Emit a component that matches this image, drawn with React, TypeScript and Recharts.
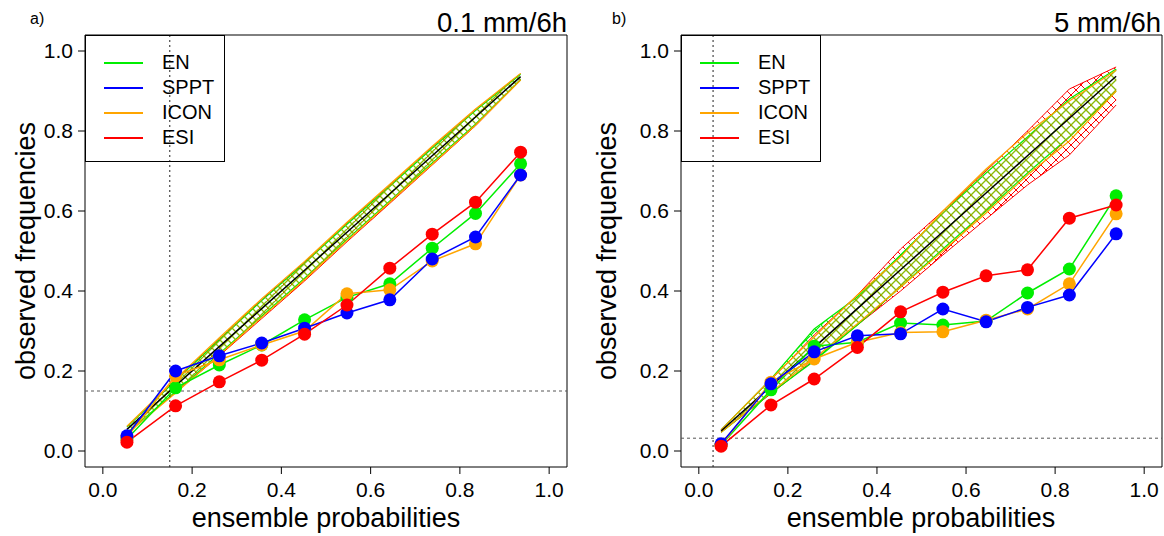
import {
  ComposedChart,
  Line,
  Area,
  XAxis,
  YAxis,
  ReferenceLine,
  ReferenceArea,
} from 'recharts';

// panel a) 0.1 mm/6h
const probA = [0.054, 0.163, 0.261, 0.356, 0.452, 0.547, 0.643, 0.738, 0.835, 0.936];
const enA = [0.03, 0.158, 0.215, 0.265, 0.328, 0.384, 0.418, 0.507, 0.594, 0.718];
const spptA = [0.038, 0.2, 0.238, 0.27, 0.307, 0.345, 0.378, 0.48, 0.535, 0.69];
const iconA = [0.035, 0.188, 0.228, 0.265, 0.3, 0.393, 0.403, 0.475, 0.518, 0.69];
const esiA = [0.022, 0.113, 0.173, 0.227, 0.292, 0.365, 0.457, 0.542, 0.622, 0.747];
const enLoA = [0.045, 0.148, 0.243, 0.337, 0.432, 0.529, 0.625, 0.72, 0.817, 0.928];
const enHiA = [0.06, 0.176, 0.278, 0.376, 0.47, 0.567, 0.662, 0.757, 0.851, 0.942];
const iconLoA = [0.043, 0.145, 0.24, 0.334, 0.428, 0.526, 0.622, 0.717, 0.814, 0.927];
const iconHiA = [0.062, 0.18, 0.283, 0.381, 0.474, 0.572, 0.667, 0.762, 0.855, 0.944];
const esiLoA = [0.044, 0.146, 0.238, 0.331, 0.425, 0.523, 0.619, 0.715, 0.813, 0.927];
const esiHiA = [0.061, 0.178, 0.28, 0.378, 0.472, 0.57, 0.665, 0.76, 0.854, 0.943];

// panel b) 5 mm/6h
const probB = [0.05, 0.162, 0.259, 0.356, 0.453, 0.548, 0.645, 0.738, 0.832, 0.937];
const enB = [0.015, 0.153, 0.262, 0.272, 0.32, 0.315, 0.325, 0.395, 0.455, 0.638];
const spptB = [0.018, 0.168, 0.248, 0.288, 0.293, 0.355, 0.323, 0.359, 0.39, 0.543];
const iconB = [0.015, 0.172, 0.23, 0.272, 0.296, 0.298, 0.327, 0.355, 0.418, 0.593];
const esiB = [0.012, 0.115, 0.18, 0.259, 0.348, 0.397, 0.438, 0.453, 0.582, 0.615];
const enLoB = [0.047, 0.145, 0.225, 0.315, 0.41, 0.505, 0.6, 0.695, 0.785, 0.9];
const enHiB = [0.053, 0.18, 0.305, 0.385, 0.49, 0.595, 0.695, 0.785, 0.88, 0.955];
const iconLoB = [0.047, 0.147, 0.232, 0.318, 0.41, 0.5, 0.595, 0.69, 0.775, 0.9];
const iconHiB = [0.053, 0.18, 0.285, 0.39, 0.485, 0.6, 0.705, 0.795, 0.875, 0.952];
const esiLoB = [0.047, 0.143, 0.228, 0.315, 0.4, 0.49, 0.58, 0.665, 0.74, 0.865];
const esiHiB = [0.053, 0.178, 0.29, 0.39, 0.505, 0.6, 0.7, 0.8, 0.905, 0.96];

const axisTicks = [0, 0.2, 0.4, 0.6, 0.8, 1.0];
const legendNames = ['EN', 'SPPT', 'ICON', 'ESI'];
const legendColors = ['#00ee00', '#0000ff', '#ffa500', '#ff0000'];

const FONT = '"Liberation Sans", Arial, Helvetica, sans-serif';
const GREEN = '#00ee00';
const BLUE = '#0000ff';
const ORANGE = '#ffa500';
const RED = '#ff0000';

function buildRows(
  p: number[], en: number[], sppt: number[], icon: number[], esi: number[],
  enLo: number[], enHi: number[], iconLo: number[], iconHi: number[],
  esiLo: number[], esiHi: number[],
) {
  return p.map((v, i) => ({
    p: v,
    diag: v,
    en: en[i],
    sppt: sppt[i],
    icon: icon[i],
    esi: esi[i],
    enBand: [enLo[i], enHi[i]],
    iconBand: [iconLo[i], iconHi[i]],
    esiBand: [esiLo[i], esiHi[i]],
  }));
}

const rowsA = buildRows(probA, enA, spptA, iconA, esiA, enLoA, enHiA, iconLoA, iconHiA, esiLoA, esiHiA);
const rowsB = buildRows(probB, enB, spptB, iconB, esiB, enLoB, enHiB, iconLoB, iconHiB, esiLoB, esiHiB);

// cross hatch, like R's polygon(density=, angle=c(45,-45))
function Hatch({ id, color, size, width }: { id: string; color: string; size: number; width: number }) {
  const s = size;
  return (
    <pattern id={id} patternUnits="userSpaceOnUse" width={s} height={s}>
      <path
        d={`M0,0 L${s},${s} M-2,${s - 2} L2,${s + 2} M${s - 2},-2 L${s + 2},2 M0,${s} L${s},0 M-2,2 L2,-2 M${s - 2},${s + 2} L${s + 2},${s - 2}`}
        stroke={color}
        strokeWidth={width}
      />
    </pattern>
  );
}

interface PanelProps {
  id: string;
  rows: ReturnType<typeof buildRows>;
  clim: number;
  left: number;
  width: number;
  marginRight: number;
  hatch: number;
}

function Panel({ id, rows, clim, left, width, marginRight, hatch }: PanelProps) {
  const dotProps = (c: string) => ({ r: 6.5, fill: c, stroke: c, strokeWidth: 0 });
  return (
    <div style={{ position: 'absolute', left, top: 0 }}>
      <ComposedChart
        width={width}
        height={536}
        data={rows}
        margin={{ top: 35, right: marginRight, bottom: 0, left: 0 }}
      >
        <defs>
          <Hatch id={`${id}-red`} color={RED} size={hatch} width={1} />
          <Hatch id={`${id}-green`} color={GREEN} size={hatch} width={1.1} />
          <Hatch id={`${id}-orange`} color="rgba(220,150,0,0.7)" size={hatch} width={1.1} />
        </defs>
        <XAxis
          type="number"
          dataKey="p"
          domain={[-0.04, 1.04]}
          allowDataOverflow
          ticks={axisTicks}
          tickFormatter={(v: number) => v.toFixed(1)}
          axisLine={false}
          tickLine={{ stroke: '#000' }}
          tickSize={7}
          tickMargin={8}
          height={69}
          tick={{ fontSize: 21, fill: '#000', fontFamily: FONT }}
        />
        <YAxis
          type="number"
          domain={[-0.04, 1.04]}
          allowDataOverflow
          ticks={axisTicks}
          tickFormatter={(v: number) => v.toFixed(1)}
          axisLine={false}
          tickLine={{ stroke: '#000' }}
          tickSize={7}
          tickMargin={5}
          width={85}
          tick={{ fontSize: 21, fill: '#000', fontFamily: FONT }}
        />
        <ReferenceArea x1={-0.04} x2={1.04} y1={-0.04} y2={1.04} fill="none" stroke="#000" strokeWidth={1} />
        <ReferenceLine x={clim} stroke="#222" strokeDasharray="2 3" />
        <ReferenceLine y={clim} stroke="#555" strokeDasharray="3 3" />
        <Area
          type="linear"
          dataKey="esiBand"
          stroke={RED}
          strokeWidth={1}
          fill={`url(#${id}-red)`}
          fillOpacity={1}
          isAnimationActive={false}
        />
        <Area
          type="linear"
          dataKey="enBand"
          stroke={GREEN}
          strokeWidth={1.2}
          fill={`url(#${id}-green)`}
          fillOpacity={1}
          isAnimationActive={false}
        />
        <Area
          type="linear"
          dataKey="iconBand"
          stroke={ORANGE}
          strokeWidth={1.2}
          fill={`url(#${id}-orange)`}
          fillOpacity={1}
          isAnimationActive={false}
        />
        <Line type="linear" dataKey="diag" stroke="#000" strokeWidth={1.5} dot={false} isAnimationActive={false} />
        <Line type="linear" dataKey="en" stroke={GREEN} strokeWidth={1.5} dot={dotProps(GREEN)} isAnimationActive={false} />
        <Line type="linear" dataKey="icon" stroke={ORANGE} strokeWidth={1.5} dot={dotProps(ORANGE)} isAnimationActive={false} />
        <Line type="linear" dataKey="sppt" stroke={BLUE} strokeWidth={1.5} dot={dotProps(BLUE)} isAnimationActive={false} />
        <Line type="linear" dataKey="esi" stroke={RED} strokeWidth={1.5} dot={dotProps(RED)} isAnimationActive={false} />
      </ComposedChart>
    </div>
  );
}

function LegendBox({ left }: { left: number }) {
  return (
    <div
      style={{
        position: 'absolute',
        left,
        top: 35,
        width: 138,
        height: 125,
        border: '1px solid #000',
        fontFamily: FONT,
        fontSize: 20,
      }}
    >
      {legendNames.map((name, i) => (
        <div key={name} style={{ position: 'absolute', left: 0, top: 14 + i * 25, height: 25, width: 138 }}>
          <div style={{ position: 'absolute', left: 18, top: 12, width: 39, height: 1.5, background: legendColors[i] }} />
          <div style={{ position: 'absolute', left: 76, top: 0, lineHeight: '25px', color: '#000' }}>{name}</div>
        </div>
      ))}
    </div>
  );
}

const textBase = { position: 'absolute' as const, fontFamily: FONT, color: '#000', whiteSpace: 'nowrap' as const, lineHeight: 1 };

export default function App() {
  return (
    <div style={{ position: 'absolute', left: 0, top: 0, width: 1164, height: 536, background: '#fff', overflow: 'hidden' }}>
      <Panel id="pa" rows={rowsA} clim={0.15} left={0} width={580} marginRight={13} hatch={8} />
      <Panel id="pb" rows={rowsB} clim={0.032} left={596} width={568} marginRight={2} hatch={10} />

      <LegendBox left={85} />
      <LegendBox left={681} />

      <div style={{ ...textBase, left: 30, top: 11, fontSize: 16 }}>a)</div>
      <div style={{ ...textBase, left: 612, top: 11, fontSize: 16 }}>b)</div>
      <div style={{ ...textBase, right: 1164 - 567, top: 9, fontSize: 27.5 }}>0.1 mm/6h</div>
      <div style={{ ...textBase, right: 3, top: 9, fontSize: 27.5 }}>5 mm/6h</div>

      <div style={{ ...textBase, left: 26, top: 251, fontSize: 27, transform: 'translate(-50%, -50%) rotate(-90deg)' }}>
        observed frequencies
      </div>
      <div style={{ ...textBase, left: 607, top: 251, fontSize: 27, transform: 'translate(-50%, -50%) rotate(-90deg)' }}>
        observed frequencies
      </div>
      <div style={{ ...textBase, left: 326, top: 505, fontSize: 27, transform: 'translateX(-50%)' }}>
        ensemble probabilities
      </div>
      <div style={{ ...textBase, left: 921, top: 505, fontSize: 27, transform: 'translateX(-50%)' }}>
        ensemble probabilities
      </div>
    </div>
  );
}
